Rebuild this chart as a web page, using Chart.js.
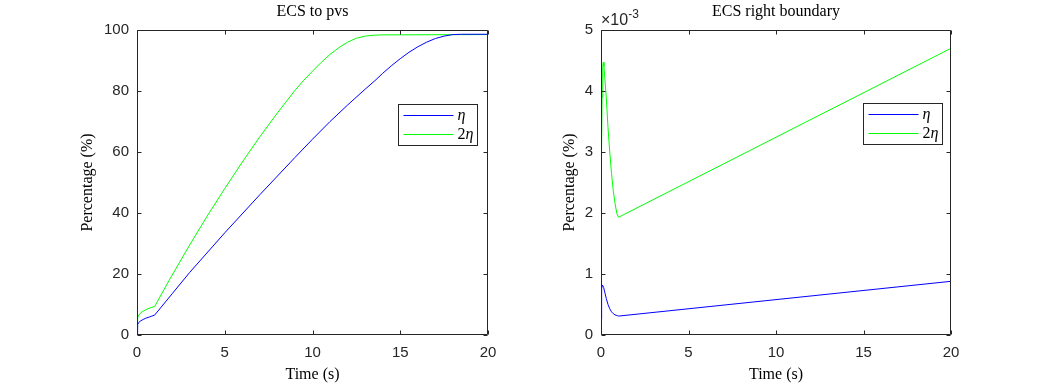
<!DOCTYPE html>
<html><head><meta charset="utf-8">
<script src="https://cdn.jsdelivr.net/npm/chart.js@4"></script>
<style>
body{margin:0;background:#fff;width:1052px;height:386px;overflow:hidden;position:relative}
canvas{position:absolute;top:0}
</style></head><body>
<canvas id="c1" width="526" height="386" style="left:0"></canvas>
<canvas id="c2" width="526" height="386" style="left:526px"></canvas>
<script>
// ---------- data ----------
const seriesLabels = ['η', '2η'];
const seriesColors = ['#0000ff', '#00ff00'];
const titles = ['ECS to pvs', 'ECS right boundary'];
const xLabel = 'Time (s)';
const yLabel = 'Percentage (%)';
const xTickValues = [0, 5, 10, 15, 20];
const leftYTickValues = [0, 20, 40, 60, 80, 100];
const rightYTickValues = [0, 0.001, 0.002, 0.003, 0.004, 0.005];

// left panel: ECS to pvs  [time, percentage]
const leftEta = [[0,0],[0.02,2.0],[0.05,3.4],[0.1,4.1],[0.2,4.6],[0.35,5.1],[0.5,5.5],
  [0.7,5.9],[0.85,6.2],[1.0,6.5],[2,13.5],[3,20.5],[5,33.5],[7,46],[9,58.2],[10,64.2],
  [11,70],[12,75.4],[13,80.6],[13.56,83.4],[14,85.8],[14.5,88.3],[15,90.6],[15.5,92.7],
  [16,94.5],[16.5,96],[17,97.2],[17.5,98],[18,98.5],[18.5,98.6],[20,98.6]];
const left2Eta = [[0,2.5],[0.02,4.5],[0.05,5.6],[0.1,6.5],[0.2,7.2],[0.35,7.8],[0.5,8.3],
  [0.7,8.8],[0.85,9.1],[1.0,9.3],[1.84,18],[3,29.5],[4,39],[5,48],[6,56.7],[7,65],
  [8,72.8],[9,80.2],[9.5,83.5],[10,86.5],[10.5,89.4],[11,92],[11.5,94.2],[12,96],
  [12.5,97.3],[13,98.0],[13.5,98.3],[14,98.4],[20,98.5]];

// right panel: ECS right boundary  [time, percentage]
const rightEta = [[0,0.00026],[0.02,0.0006],[0.05,0.00076],[0.08,0.00082],[0.1,0.00082],
  [0.15,0.00078],[0.2,0.00072],[0.3,0.0006],[0.4,0.0005],[0.5,0.00043],[0.6,0.00038],
  [0.7,0.00035],[0.8,0.00033],[0.9,0.00032],[1.0,0.00031],[20,0.00088]];
const right2Eta = [[0,0.0014],[0.03,0.003],[0.06,0.0039],[0.1,0.0044],[0.13,0.00447],
  [0.17,0.0044],[0.22,0.0042],[0.3,0.0039],[0.4,0.0034],[0.5,0.003],[0.6,0.00265],
  [0.7,0.00237],[0.8,0.00216],[0.9,0.002],[1.0,0.00193],[20,0.0047]];

// ---------- helpers ----------
const AX = '#262626';
const SERIF = '"Liberation Serif", "Times New Roman", serif';
const SANS = '"Liberation Sans", Arial, sans-serif';

function toPts(arr){ return arr.map(p => ({x:p[0], y:p[1]})); }

const matlabBox = {
  id: 'matlabBox',
  afterDatasetsDraw(chart, args, opts){
    const {ctx, chartArea: a, scales: {x, y}} = chart;
    ctx.save();
    ctx.strokeStyle = AX; ctx.lineWidth = 1;
    const L = Math.round(a.left) + 0.5, R = Math.round(a.right) - 0.5;
    const T = Math.round(a.top) + 0.5, B = Math.round(a.bottom) - 0.5;
    ctx.beginPath();
    ctx.rect(L, T, R - L, B - T);
    const tl = 4;
    x.ticks.forEach(t => {
      const px = Math.round(x.getPixelForValue(t.value)) + 0.5;
      ctx.moveTo(px, B); ctx.lineTo(px, B - tl);
      ctx.moveTo(px, T); ctx.lineTo(px, T + tl);
    });
    y.ticks.forEach(t => {
      const py = Math.round(y.getPixelForValue(t.value)) + 0.5;
      ctx.moveTo(L, py); ctx.lineTo(L + tl, py);
      ctx.moveTo(R, py); ctx.lineTo(R - tl, py);
    });
    ctx.stroke();

    // legend
    const bw = 79, bh = 41;
    const bx = Math.round(a.right - opts.legendRight - bw) + 0.5;
    const by = Math.round(a.top + opts.legendTop) + 0.5;
    ctx.fillStyle = '#fff';
    ctx.fillRect(bx, by, bw, bh);
    ctx.strokeStyle = AX;
    ctx.strokeRect(bx, by, bw, bh);
    chart.data.datasets.forEach((ds, i) => {
      const ly = Math.floor(by + 11 + i * 19) + 0.5;
      ctx.strokeStyle = ds.borderColor; ctx.lineWidth = 1;
      ctx.beginPath(); ctx.moveTo(bx + 5, ly); ctx.lineTo(bx + 55, ly); ctx.stroke();
      ctx.fillStyle = '#000'; ctx.textBaseline = 'middle'; ctx.textAlign = 'left';
      let tx = bx + 59;
      for (const ch of ds.label) {
        ctx.font = (/[0-9]/.test(ch) ? '' : 'italic ') + '16px ' + SERIF;
        ctx.fillText(ch, tx, ly);
        tx += ctx.measureText(ch).width;
      }
    });

    // exponent label
    if (opts.exponent) {
      ctx.fillStyle = AX; ctx.textAlign = 'left'; ctx.textBaseline = 'alphabetic';
      ctx.font = '16px ' + SANS;
      const base = '\u00d710';
      ctx.fillText(base, a.left, 25);
      const w = ctx.measureText(base).width;
      ctx.font = '12px ' + SANS;
      ctx.fillText(opts.exponent, a.left + w, 18);
    }
    ctx.restore();
  }
};

function makeChart(id, data1, data2, title, yMax, yTickFmt, geom){
  return new Chart(document.getElementById(id), {
    type: 'line',
    data: {
      datasets: [
        {label: seriesLabels[0], data: toPts(data1), borderColor: seriesColors[0]},
        {label: seriesLabels[1], data: toPts(data2), borderColor: seriesColors[1]}
      ]
    },
    options: {
      responsive: false, animation: false, devicePixelRatio: 1,
      elements: {
        point: {radius: 0},
        line: {borderWidth: 1, tension: 0, fill: false}
      },
      layout: {padding: {left: 0, right: geom.padRight, top: 0, bottom: 0}},
      plugins: {
        legend: {display: false},
        tooltip: {enabled: false},
        title: {
          display: true, text: title, color: '#000', fullSize: false,
          font: {family: SERIF, size: 16, weight: 'normal', lineHeight: 1.2},
          padding: {top: 2, bottom: 8.8}
        },
        matlabBox: {legendRight: geom.legendRight, legendTop: geom.legendTop, exponent: geom.exponent}
      },
      scales: {
        x: {
          type: 'linear', min: 0, max: 20,
          afterBuildTicks: s => { s.ticks = xTickValues.map(v => ({value: v})); },
          afterFit: s => { s.height = 51; },
          grid: {display: false, drawTicks: false, tickLength: 0},
          border: {display: false},
          ticks: {color: AX, font: {family: SANS, size: 15}, padding: 9, maxRotation: 0},
          title: {display: true, text: xLabel, color: '#000',
            font: {family: SERIF, size: 16, lineHeight: 1.2}, padding: {top: 0, bottom: 2}}
        },
        y: {
          type: 'linear', min: 0, max: yMax,
          afterBuildTicks: s => { s.ticks = geom.yTicks.map(v => ({value: v})); },
          afterFit: s => { s.width = geom.yWidth; },
          grid: {display: false, drawTicks: false, tickLength: 0},
          border: {display: false},
          ticks: {color: AX, font: {family: SANS, size: 15}, padding: 8, callback: yTickFmt},
          title: {display: true, text: yLabel, color: '#000',
            font: {family: SERIF, size: 16, lineHeight: 1.2}, padding: {top: geom.yTitlePad, bottom: 0}}
        }
      }
    },
    plugins: [matlabBox]
  });
}

makeChart('c1', leftEta, left2Eta, titles[0], 100, v => String(v),
  {padRight: 38, yWidth: 137, yTitlePad: 78, legendRight: 11, legendTop: 74, yTicks: leftYTickValues, exponent: null});
makeChart('c2', rightEta, right2Eta, titles[1], 0.005, v => String(Math.round(v * 1000)),
  {padRight: 101, yWidth: 75, yTitlePad: 34, legendRight: 9, legendTop: 73, yTicks: rightYTickValues, exponent: '-3'});
</script>
</body></html>
